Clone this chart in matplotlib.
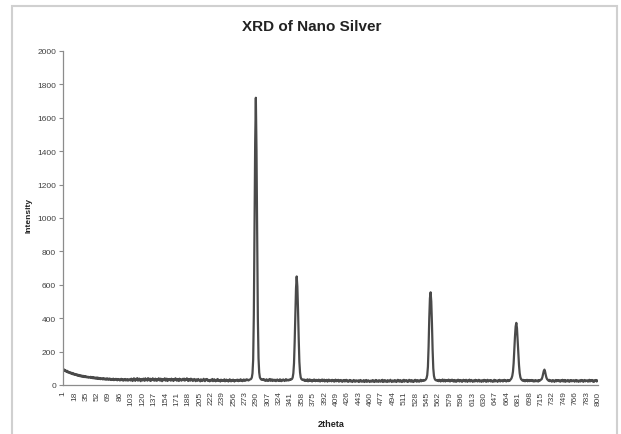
import matplotlib
matplotlib.use("Agg")
import matplotlib.pyplot as plt
from matplotlib.patches import Rectangle

# ---------------- data ----------------
title = "XRD of Nano Silver"
x_label = "2theta"
y_label = "Intensity"
y_ticks = [0, 200, 400, 600, 800, 1000, 1200, 1400, 1600, 1800, 2000]

intensity = [
    96, 88, 92, 84, 87, 79, 85, 76, 80, 73, 77, 70, 74, 67, 72, 64, 69, 62, 66, 60,
    64, 57, 62, 55, 60, 53, 58, 51, 56, 50, 55, 48, 53, 47, 52, 46, 50, 45, 49, 44,
    46, 49, 42, 48, 41, 47, 40, 45, 39, 44, 38, 45, 37, 43, 36, 42, 35, 41, 38, 34,
    41, 34, 39, 33, 38, 32, 40, 34, 31, 39, 33, 37, 30, 36, 32, 38, 29, 35, 31, 37,
    34, 28, 36, 30, 34, 27, 33, 37, 29, 35, 26, 33, 29, 36, 27, 31, 35, 26, 33, 29,
    34, 27, 38, 30, 24, 36, 40, 29, 25, 37, 31, 41, 26, 33, 38, 28, 23, 36, 31, 27,
    38, 33, 25, 40, 30, 35, 26, 41, 32, 28, 38, 24, 35, 30, 40, 28, 33, 26, 38, 31,
    25, 36, 29, 40, 33, 26, 38, 30, 23, 36, 29, 33, 40, 26, 31, 38, 24, 34, 29, 36,
    31, 26, 38, 29, 34, 24, 36, 31, 40, 29, 26, 36, 31, 24, 38, 29, 34, 26, 31, 37,
    29, 38, 26, 34, 31, 40, 29, 24, 36, 31, 26, 38, 29, 34, 24, 31, 36, 29, 23, 34,
    30, 25, 36, 31, 26, 22, 34, 30, 24, 31, 37, 27, 23, 34, 30, 36, 25, 31, 27, 22,
    31, 25, 30, 36, 23, 28, 34, 25, 22, 31, 27, 36, 24, 30, 26, 21, 32, 28, 24, 30,
    26, 34, 22, 28, 32, 24, 30, 21, 28, 34, 26, 22, 30, 25, 32, 27, 21, 29, 25, 31,
    27, 32, 23, 29, 25, 34, 27, 31, 23, 29, 33, 25, 31, 27, 34, 29, 32, 27, 30, 33,
    34, 37, 45, 70, 150, 420, 900, 1450, 1720, 1400, 880, 400, 160, 75, 46, 38, 33, 31, 34, 30,
    35, 27, 31, 25, 34, 29, 24, 32, 28, 36, 25, 30, 34, 24, 28, 32, 26, 31, 23, 29,
    33, 26, 30, 24, 34, 28, 23, 31, 27, 33, 28, 24, 31, 35, 26, 29, 32, 27, 30, 34,
    31, 34, 36, 45, 70, 130, 260, 430, 580, 650, 590, 450, 280, 140, 75, 46, 36, 32, 30, 33,
    27, 32, 24, 30, 26, 34, 22, 29, 33, 24, 31, 27, 21, 30, 25, 33, 27, 23, 31, 25,
    30, 23, 32, 27, 21, 30, 25, 33, 23, 28, 32, 21, 28, 26, 31, 20, 28, 32, 23, 29,
    26, 22, 31, 24, 28, 20, 27, 32, 22, 29, 24, 31, 20, 27, 23, 30, 25, 19, 28, 23,
    30, 21, 25, 31, 22, 27, 19, 25, 30, 21, 28, 24, 18, 26, 30, 21, 26, 20, 28, 23,
    22, 28, 18, 24, 30, 21, 26, 20, 24, 29, 18, 26, 22, 30, 19, 24, 28, 22, 18, 26,
    24, 20, 29, 22, 27, 18, 24, 30, 20, 27, 22, 19, 29, 24, 20, 27, 22, 31, 18, 24,
    29, 20, 27, 23, 18, 29, 24, 20, 27, 31, 22, 18, 27, 24, 20, 29, 22, 27, 18, 25,
    31, 22, 27, 20, 29, 24, 18, 27, 22, 31, 20, 25, 29, 22, 27, 18, 24, 31, 22, 27,
    20, 29, 24, 18, 27, 22, 31, 25, 20, 29, 22, 27, 20, 25, 31, 22, 29, 27, 25, 30,
    27, 30, 34, 42, 60, 110, 230, 400, 520, 555, 500, 370, 210, 100, 55, 38, 31, 28, 30, 26,
    30, 23, 31, 27, 21, 30, 25, 33, 22, 27, 31, 21, 28, 25, 30, 23, 32, 26, 21, 30,
    25, 32, 23, 28, 20, 30, 26, 19, 28, 23, 32, 25, 21, 30, 23, 28, 19, 26, 31, 23,
    28, 21, 31, 26, 19, 28, 24, 32, 21, 26, 30, 23, 19, 28, 26, 21, 31, 24, 28, 21,
    26, 31, 21, 28, 24, 19, 29, 26, 21, 31, 24, 28, 19, 26, 31, 21, 26, 24, 29, 21,
    28, 24, 19, 26, 31, 21, 28, 24, 26, 19, 28, 24, 31, 21, 26, 24, 29, 21, 26, 31,
    24, 28, 21, 26, 30, 23, 28, 25, 31, 35, 42, 55, 80, 130, 210, 290, 350, 372, 340, 270,
    190, 120, 72, 48, 36, 31, 27, 31, 24, 29, 22, 28, 25, 31, 22, 28, 30, 23, 28, 25,
    30, 23, 28, 21, 27, 22, 29, 25, 22, 28, 21, 29, 25, 31, 32, 36, 48, 66, 84, 92,
    80, 60, 44, 35, 30, 26, 31, 23, 28, 25, 20, 29, 23, 27, 19, 26, 30, 22, 28, 24,
    29, 22, 27, 20, 28, 24, 31, 21, 26, 30, 19, 28, 23, 22, 30, 26, 19, 28, 23, 29,
    22, 27, 24, 28, 20, 26, 30, 21, 28, 24, 19, 28, 26, 21, 30, 24, 28, 19, 26, 30,
    22, 26, 24, 28, 20, 26, 31, 21, 28, 24, 30, 21, 27, 19, 28, 24, 30, 21, 27, 25,
]
categories = list(range(1, len(intensity) + 1))
label_step = 17
tick_labels = [str(c) for c in categories[::label_step]]

# ---------------- figure ----------------
W, H = 621, 435
fig = plt.figure(figsize=(W / 100, H / 100), dpi=100)
fig.patch.set_facecolor("white")

fig.patches.append(Rectangle((12 / W, -0.02), (617 - 12) / W, 1 - 7 / H + 0.02,
                             transform=fig.transFigure, fill=False,
                             edgecolor="#d0d0d0", linewidth=1.5))

left, right, top, bottom = 63, 598, 52, 386
ax = fig.add_axes([left / W, 1 - bottom / H, (right - left) / W, (bottom - top) / H])

ax.plot(categories, intensity, color="#4a4a4a", linewidth=1.6, solid_joinstyle="round")

small_font = ["Liberation Sans Narrow", "Liberation Sans", "DejaVu Sans"]

ax.set_xlim(1, len(intensity))
ax.set_ylim(0, 2000)
ax.set_yticks(y_ticks)
ax.set_yticklabels([str(v) for v in y_ticks], fontsize=6, color="#404040", family=small_font)
ax.set_xticks(categories[::label_step])
ax.set_xticklabels(tick_labels, rotation=90, fontsize=6, color="#404040", family=small_font)

for s in ["top", "right"]:
    ax.spines[s].set_visible(False)
for s in ["left", "bottom"]:
    ax.spines[s].set_color("#8c8c8c")
    ax.spines[s].set_linewidth(0.9)
ax.tick_params(axis="y", length=3, width=0.8, color="#8c8c8c", pad=2)
ax.tick_params(axis="x", length=0, pad=4)

fig.text(312 / W, 1 - 27 / H, title, ha="center", va="center", fontsize=11,
         fontweight="bold", color="#222222", family=small_font)
fig.text(29 / W, 1 - 216 / H, y_label, ha="center", va="center", rotation=90,
         fontsize=6, fontweight="bold", color="#222222", family=small_font)
fig.text(331 / W, 1 - 425 / H, x_label, ha="center", va="center",
         fontsize=6.5, fontweight="bold", color="#222222", family=small_font)

fig.savefig("out.png", dpi=100, facecolor="white")
